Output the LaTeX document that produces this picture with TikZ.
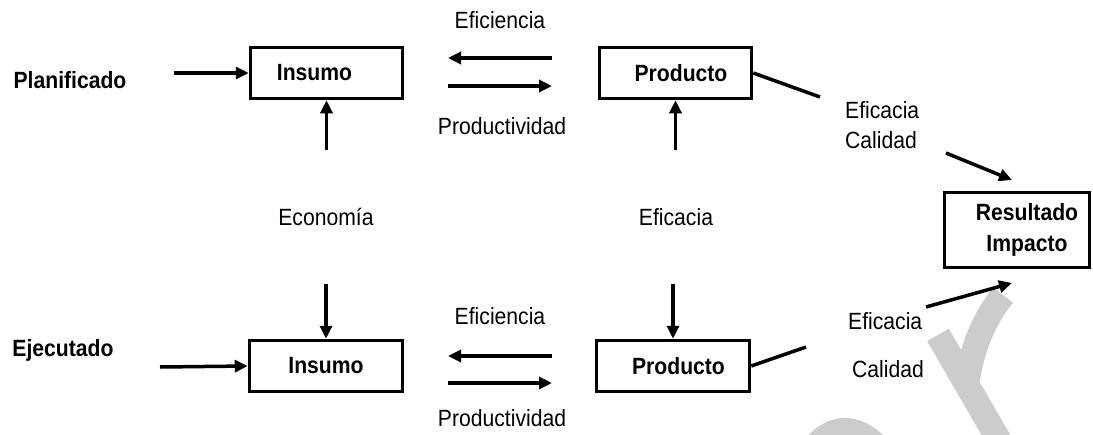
\documentclass[tikz,border=0pt]{standalone}
\usepackage{fontspec}
\setmainfont[FakeStretch=0.9]{Liberation Sans}
\usetikzlibrary{arrows.meta}
\begin{document}
\fontsize{23.5}{31}\selectfont
\renewcommand\arraystretch{1.0}
\begin{tikzpicture}[x=1pt,y=-1pt,
  box/.style={draw,line width=3.5pt,inner sep=0pt,font=\bfseries},
  arr/.style={line width=3.5pt,-{Triangle[length=13pt,width=12pt]}},
  ln/.style={line width=3.5pt},
  lab/.style={inner sep=0pt},
  wm/.style={draw=gray!40,line width=25pt}]
\useasboundingbox (0,0) rectangle (1093,434);
% watermark fragments
\begin{scope}
\clip (0,0) rectangle (1093,434);
\draw[wm] (938,335) -- (1000,442);
\draw[wm] (1003,295) .. controls (985,318) and (972,345) .. (966,388);
\draw[wm] (805,462) .. controls (825,424) and (855,420) .. (882,452);
\end{scope}
% top row
\node[lab,font=\bfseries] (plan) at (70,80) {Planificado};
\node[box,minimum width=152pt,minimum height=51pt] (ins1) at (326.5,73) {\hspace*{-24pt}Insumo};
\node[box,minimum width=152pt,minimum height=51pt] (prod1) at (675.5,73) {\hspace*{11pt}Producto};
\node[lab] (efi1) at (500,20) {Eficiencia};
\node[lab] (pro1) at (502,126) {Productividad};
\node[lab,anchor=west] (efc1) at (845,110) {Eficacia};
\node[lab,anchor=west] (cal1) at (845,140) {Calidad};
\node[box,minimum width=145pt,minimum height=75pt] (res) at (1017,230)
  {\hspace*{20pt}\begin{tabular}{@{}c@{}}Resultado\\Impacto\end{tabular}};
\node[lab] (eco) at (326,217) {Economía};
\node[lab] (efc) at (676,217) {Eficacia};
% bottom row
\node[lab,font=\bfseries] (ejec) at (63,350) {Ejecutado};
\node[box,minimum width=153pt,minimum height=51pt] (ins2) at (326,366) {Insumo};
\node[box,minimum width=153pt,minimum height=51pt] (prod2) at (673,366) {\hspace*{11pt}Producto};
\node[lab] (efi2) at (500,316) {Eficiencia};
\node[lab] (pro2) at (502,418) {Productividad};
\node[lab,anchor=west] (efc2) at (848,321) {Eficacia};
\node[lab,anchor=west] (cal2) at (852,369) {Calidad};
% coordinates
\coordinate (pa) at (174,73);
\coordinate (ea) at (326.5,150);
\coordinate (l1a) at (552,58);
\coordinate (l1b) at (448,58);
\coordinate (r1a) at (448,86);
\coordinate (r1b) at (552,86);
\coordinate (fa) at (675.5,150);
\coordinate (q1) at (820,97);
\coordinate (s1) at (946,153);
\coordinate (t1) at (1012,180);
\coordinate (pb) at (160,367);
\coordinate (eb) at (326,284);
\coordinate (l2a) at (552,356);
\coordinate (l2b) at (448,356);
\coordinate (r2a) at (448,383);
\coordinate (r2b) at (552,383);
\coordinate (fb) at (673,284);
\coordinate (q2) at (806,347);
\coordinate (s2) at (926,307);
\coordinate (t2) at (1012,283);
% connectors
\draw[arr] (pa) -- (ins1.west);
\draw[arr] (ea) -- (ins1.south);
\draw[arr] (l1a) -- (l1b);
\draw[arr] (r1a) -- (r1b);
\draw[arr] (fa) -- (prod1.south);
\draw[ln] (prod1.east) -- (q1);
\draw[arr] (s1) -- (t1);
\draw[arr] (pb) -- (ins2.west);
\draw[arr] (eb) -- (ins2.north);
\draw[arr] (l2a) -- (l2b);
\draw[arr] (r2a) -- (r2b);
\draw[arr] (fb) -- (prod2.north);
\draw[ln] (prod2.east) -- (q2);
\draw[arr] (s2) -- (t2);
\end{tikzpicture}
\end{document}
